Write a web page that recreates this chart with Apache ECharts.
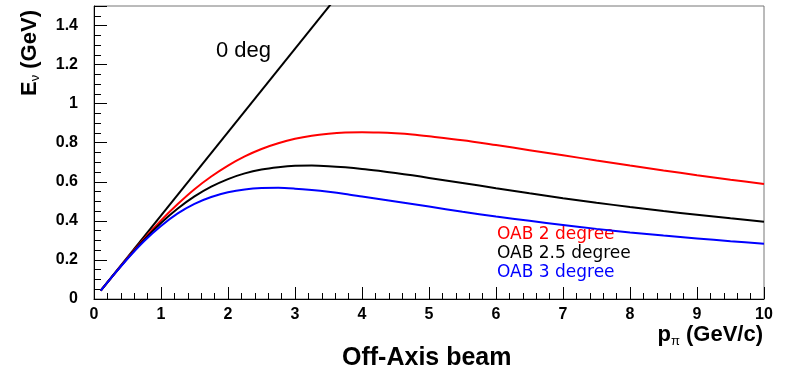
<!DOCTYPE html>
<html>
<head>
<meta charset="utf-8">
<script src="https://cdn.jsdelivr.net/npm/echarts@6/dist/echarts.min.js"></script>
<style>
  html, body { margin: 0; padding: 0; background: #fff; }
  #chart { width: 785px; height: 375px; }
</style>
</head>
<body>
<div id="chart"></div>
<script>
// p_pi (GeV/c) sample points
const momentum = [0.1, 0.25, 0.5, 0.75, 1, 1.25, 1.5, 1.75, 2, 2.25, 2.5, 2.75, 3, 3.25, 3.5, 3.75, 4, 4.25, 4.5, 4.75, 5, 5.5, 6, 6.5, 7, 7.5, 8, 8.5, 9, 9.5, 10];
// E_nu (GeV)
const oab2 = [0.043, 0.106, 0.210, 0.309, 0.402, 0.486, 0.562, 0.627, 0.683, 0.730, 0.768, 0.797, 0.820, 0.836, 0.846, 0.852, 0.854, 0.852, 0.848, 0.842, 0.833, 0.813, 0.788, 0.762, 0.736, 0.709, 0.683, 0.658, 0.634, 0.611, 0.589];
const oab25 = [0.043, 0.106, 0.208, 0.304, 0.389, 0.463, 0.525, 0.575, 0.614, 0.643, 0.663, 0.675, 0.682, 0.683, 0.680, 0.674, 0.666, 0.656, 0.645, 0.633, 0.620, 0.594, 0.567, 0.541, 0.516, 0.493, 0.471, 0.450, 0.431, 0.413, 0.396];
const oab3 = [0.043, 0.106, 0.206, 0.297, 0.374, 0.438, 0.487, 0.522, 0.546, 0.561, 0.568, 0.569, 0.565, 0.558, 0.549, 0.538, 0.525, 0.512, 0.499, 0.486, 0.473, 0.447, 0.422, 0.400, 0.379, 0.359, 0.341, 0.325, 0.310, 0.296, 0.283];
// 0 deg straight line, two end points (runs out of the top of the frame)
const deg0P = [0.1, 4];
const deg0E = [0.043, 1.708];

const pairs = (xs, ys) => xs.map((x, i) => [x, ys[i]]);

const chart = echarts.init(document.getElementById('chart'));

const lineSeries = (name, data, color) => ({
  name: name,
  type: 'line',
  data: data,
  showSymbol: false,
  smooth: 0.3,
  clip: true,
  lineStyle: { color: color, width: 2 },
  z: 3
});

chart.setOption({
  animation: false,
  grid: {
    left: 94, right: 21, top: 6, bottom: 76,
    show: true,
    borderColor: '#777',
    borderWidth: 1
  },
  xAxis: {
    type: 'value',
    min: 0, max: 10, interval: 1,
    axisLine: { onZero: false, lineStyle: { color: '#000', width: 1 } },
    axisTick: { inside: true, length: 12, lineStyle: { color: '#000' } },
    minorTick: { show: true, splitNumber: 5, length: 6, lineStyle: { color: '#000' } },
    splitLine: { show: false },
    axisLabel: {
      margin: 8,
      color: '#000',
      fontFamily: 'Liberation Sans',
      fontWeight: 'bold',
      fontSize: 16
    }
  },
  yAxis: {
    type: 'value',
    min: 0, max: 1.5, interval: 0.2,
    axisLine: { show: true, lineStyle: { color: '#000', width: 1 } },
    axisTick: { inside: true, length: 13, lineStyle: { color: '#000' } },
    minorTick: { show: true, splitNumber: 4, length: 7, lineStyle: { color: '#000' } },
    splitLine: { show: false },
    axisLabel: {
      margin: 16,
      color: '#000',
      fontFamily: 'Liberation Sans',
      fontWeight: 'bold',
      fontSize: 16,
      showMaxLabel: false,
      formatter: v => (v > 1.45 ? '' : String(Math.round(v * 10) / 10))
    }
  },
  series: [
    lineSeries('0 deg', pairs(deg0P, deg0E), '#000'),
    lineSeries('OAB 2 degree', pairs(momentum, oab2), '#ff0000'),
    lineSeries('OAB 2.5 degree', pairs(momentum, oab25), '#000'),
    lineSeries('OAB 3 degree', pairs(momentum, oab3), '#0000ff')
  ],
  graphic: [
    {
      type: 'text', left: 216, top: 40,
      style: { text: '0 deg', fill: '#000', font: '22px "Liberation Sans"' }
    },
    {
      type: 'text', left: 497, top: 226,
      style: { text: 'OAB 2 degree', fill: '#ff0000', font: '17px "DejaVu Sans"' }
    },
    {
      type: 'text', left: 497, top: 245,
      style: { text: 'OAB 2.5 degree', fill: '#000', font: '17px "DejaVu Sans"' }
    },
    {
      type: 'text', left: 497, top: 264,
      style: { text: 'OAB 3 degree', fill: '#0000ff', font: '17px "DejaVu Sans"' }
    },
    {
      type: 'text', right: 22, top: 324,
      style: {
        text: '{b|p}{s|π}{b| (GeV/c)}',
        rich: {
          b: { fontFamily: 'Liberation Sans', fontWeight: 'bold', fontSize: 22, fill: '#000' },
          s: { fontFamily: 'Liberation Sans', fontSize: 13, fill: '#000', padding: [12, 0, 0, 0] }
        }
      }
    },
    {
      type: 'text', left: 342, top: 346,
      style: { text: 'Off-Axis beam', fill: '#000', font: 'bold 25px "Liberation Sans"' }
    },
    {
      type: 'text', x: 17, y: 96, rotation: Math.PI / 2,
      style: {
        text: '{b|E}{s|ν}{b| (GeV)}',
        rich: {
          b: { fontFamily: 'Liberation Sans', fontWeight: 'bold', fontSize: 22, fill: '#000' },
          s: { fontFamily: 'Liberation Sans', fontSize: 13, fill: '#000', padding: [12, 0, 0, 0] }
        }
      }
    }
  ]
});
</script>
</body>
</html>
